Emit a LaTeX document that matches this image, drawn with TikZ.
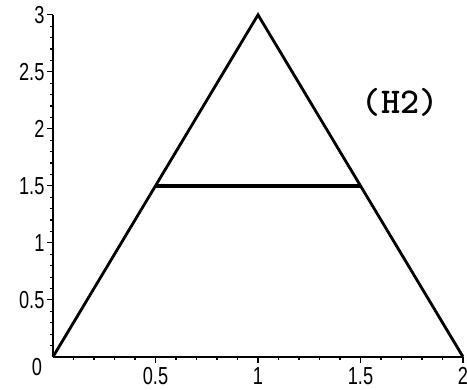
\documentclass[tikz,border=0pt]{standalone}
\usepackage{fontspec}
\usepackage{graphicx}
\setmainfont{Liberation Sans}
\usetikzlibrary{positioning}

\newcommand{\ticklab}[1]{\scalebox{0.74}[1]{#1}}

\begin{document}
\begin{tikzpicture}[x=6.15cm,y=3.42cm,font=\fontsize{21}{21}\selectfont,
    axisline/.style={line width=1.3pt},
    tickmark/.style={line width=0.9pt},
    ticklabel/.style={inner sep=0pt}]
  \useasboundingbox (-0.2585,-0.29) rectangle (2.0195,3.13);
  % axes
  \coordinate (origin) at (0,0);
  \coordinate (xend) at (2,0);
  \coordinate (yend) at (0,3);
  \draw[axisline] (origin) -- (xend);
  \draw[axisline] (origin) -- (yend);
  % minor and major ticks
  \foreach \i in {1,...,20}
    \draw[tickmark] ({\i/10},0) -- ++(0,-0.09cm);
  \foreach \i in {1,...,30}
    \draw[tickmark] (0,{\i/10}) -- ++(-0.09cm,0);
  \foreach \i in {0.5,1,1.5,2}
    \draw[tickmark] (\i,0) -- ++(0,-0.18cm);
  \foreach \i in {0.5,1,1.5,2,2.5,3}
    \draw[tickmark] (0,\i) -- ++(-0.18cm,0);
  % tick labels
  \foreach \i in {0.5,1,1.5,2}
    \node[ticklabel,anchor=north,yshift=-0.32cm] (xlab\i) at (\i,0) {\ticklab{\i}};
  \foreach \i in {0.5,1,1.5,2,2.5,3}
    \node[ticklabel,anchor=east,xshift=-0.25cm] (ylab\i) at (0,\i) {\ticklab{\i}};
  \node[ticklabel] (zerolab) at (-0.078,-0.09) {\ticklab{0}};
  % triangle and cut
  \coordinate (left foot) at (0,0);
  \coordinate (apex) at (1,3);
  \coordinate (right foot) at (2,0);
  \draw[line width=2.4pt,line join=miter] (left foot) -- (apex) -- (right foot);
  \coordinate (cut left) at (0.5,1.5);
  \coordinate (cut right) at (1.5,1.5);
  \draw[line width=3.4pt] (cut left) -- (cut right);
  \node[font=\ttfamily\bfseries\fontsize{31}{31}\selectfont] (tag) at (1.693,2.23) {(H2)};
\end{tikzpicture}
\end{document}
